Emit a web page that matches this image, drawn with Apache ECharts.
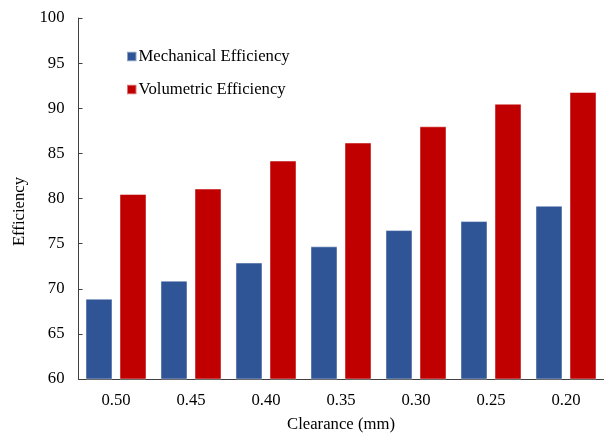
<!DOCTYPE html>
<html>
<head>
<meta charset="utf-8">
<script src="https://cdn.jsdelivr.net/npm/echarts@6/dist/echarts.min.js"></script>
<style>html,body{margin:0;padding:0;background:#fff;}#c{width:608px;height:438px;}</style>
</head>
<body>
<div id="c"></div>
<script>
var categories = ['0.50', '0.45', '0.40', '0.35', '0.30', '0.25', '0.20'];
var mechanical = [68.9, 70.9, 72.9, 74.7, 76.5, 77.5, 79.2];
var volumetric = [80.5, 81.1, 84.2, 86.2, 88.0, 90.5, 91.8];
var seriesNames = ['Mechanical Efficiency', 'Volumetric Efficiency'];

var font = '"Liberation Serif", "Times New Roman", serif';
var chart = echarts.init(document.getElementById('c'), null, {renderer: 'canvas'});
chart.setOption({
  animation: false,
  textStyle: {fontFamily: font},
  grid: {left: 78.5, right: 4.5, top: 18, bottom: 57.5},
  legend: {
    orient: 'vertical', left: 121, top: 43, itemGap: 16,
    itemWidth: 9.5, itemHeight: 9.5,
    icon: 'rect',
    textStyle: {fontFamily: font, fontSize: 16.7, color: '#000', padding: [0,0,0,-3]},
    data: seriesNames
  },
  xAxis: {
    type: 'category', data: categories,
    name: 'Clearance (mm)', nameLocation: 'middle', nameGap: 37,
    nameTextStyle: {fontFamily: font, fontSize: 16.7, color: '#000'},
    axisLine: {lineStyle: {color: '#404040', width: 1}},
    axisTick: {inside: true, length: 4, lineStyle: {color: '#404040'}},
    axisLabel: {fontFamily: font, fontSize: 16.7, color: '#000', margin: 13}
  },
  yAxis: {
    type: 'value', min: 60, max: 100, interval: 5,
    name: 'Efficiency', nameLocation: 'middle', nameGap: 48,
    nameTextStyle: {fontFamily: font, fontSize: 16.7, color: '#000', padding: [0, 26, 0, 0]},
    axisLine: {show: true, lineStyle: {color: '#404040', width: 1}},
    axisTick: {show: true, inside: true, length: 4, lineStyle: {color: '#404040'}},
    axisLabel: {fontFamily: font, fontSize: 16.7, color: '#000', margin: 14},
    splitLine: {show: false}
  },
  series: [
    {name: seriesNames[0], type: 'bar', data: mechanical, barWidth: 27, barGap: '26%',
     itemStyle: {color: '#2F5597', borderColor: 'rgba(255,255,255,0.45)', borderWidth: 1}},
    {name: seriesNames[1], type: 'bar', data: volumetric, barWidth: 27,
     itemStyle: {color: '#C00000', borderColor: 'rgba(255,255,255,0.45)', borderWidth: 1}}
  ]
});
</script>
</body>
</html>
